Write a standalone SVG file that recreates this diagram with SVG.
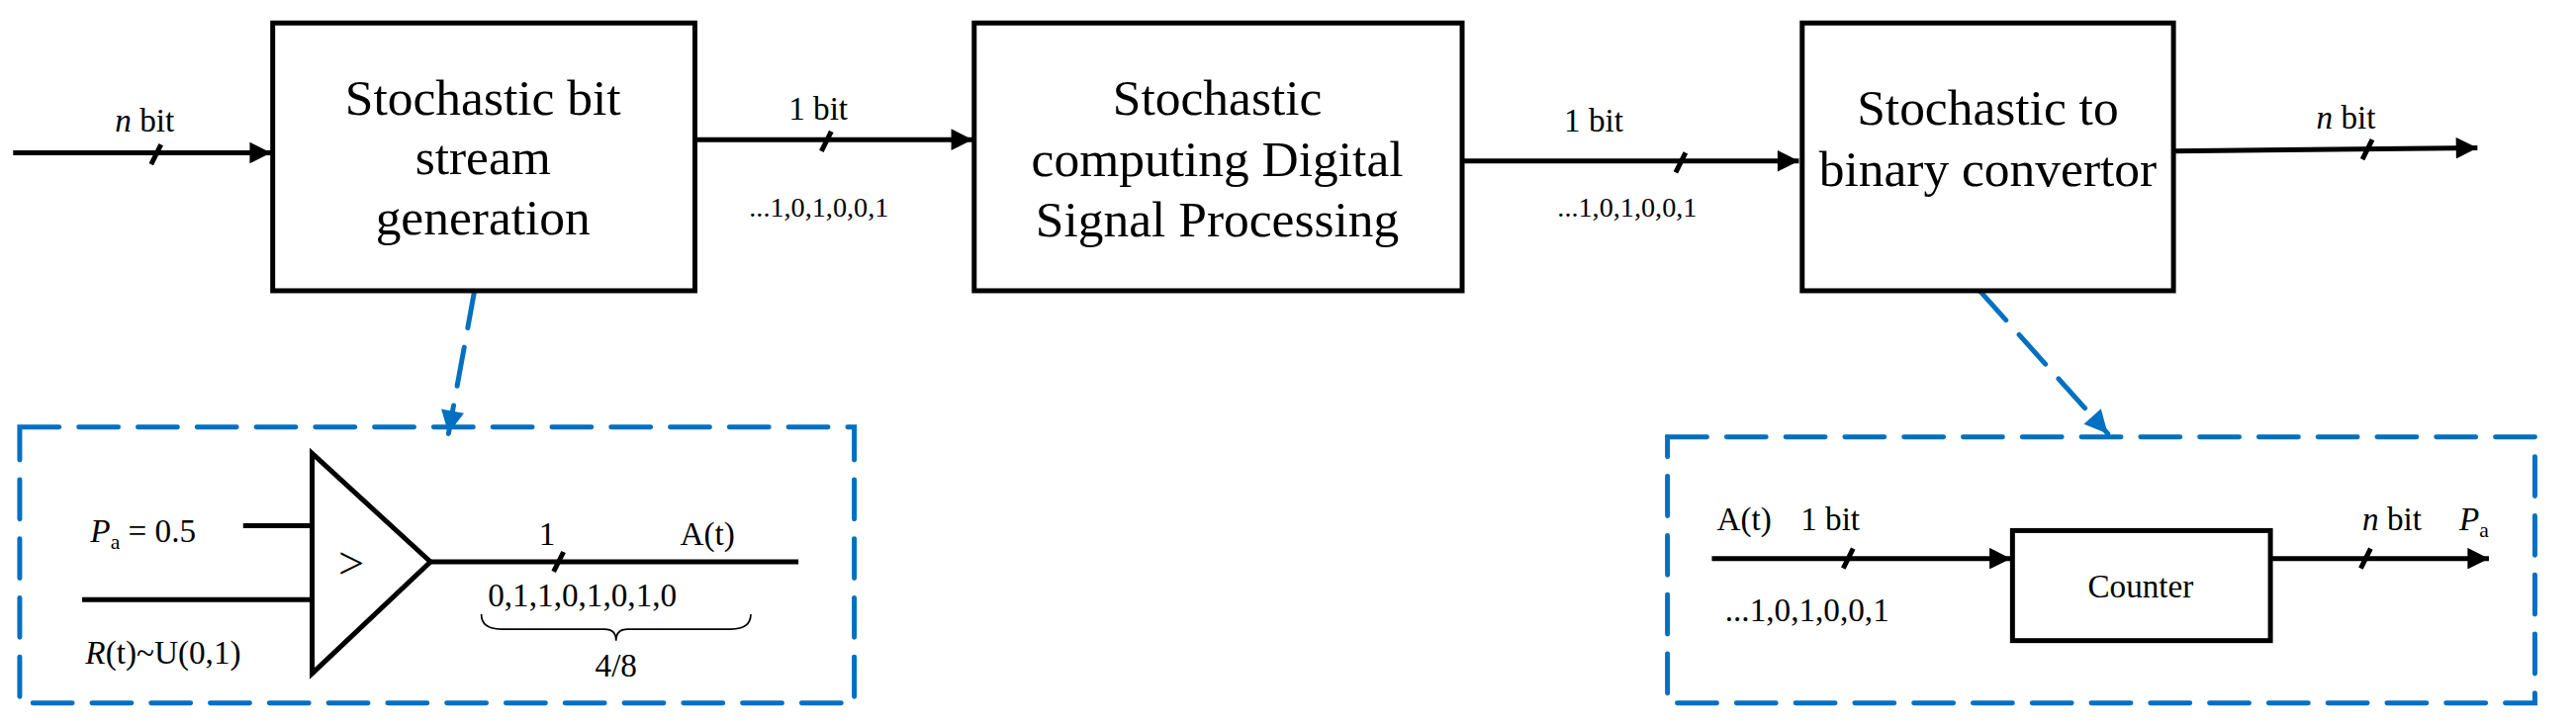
<svg xmlns="http://www.w3.org/2000/svg" width="2604" height="735" viewBox="0 0 2604 735">
<style>
text{font-family:"Liberation Serif","Times New Roman","DejaVu Serif",serif;fill:#000}
.bt{font-size:31px;text-anchor:middle}
.lb{font-size:20px}
.box{fill:#fff;stroke:#000;stroke-width:3}
.ln{stroke:#000;stroke-width:3;fill:none}
.bl{stroke:#0070C0;stroke-width:3;fill:none;stroke-dasharray:24 12;stroke-linecap:round}
</style>
<defs>
<marker id="a" viewBox="0 0 10 10" refX="10" refY="5" markerWidth="18" markerHeight="13" markerUnits="userSpaceOnUse" orient="auto"><path d="M0,0L10,5L0,10z" fill="#000"/></marker>
<marker id="ab" viewBox="0 0 10 10" refX="10" refY="5" markerWidth="18" markerHeight="14" markerUnits="userSpaceOnUse" orient="auto"><path d="M0,0L10,5L0,10z" fill="#0070C0"/></marker>
</defs>
<g transform="scale(1.6607)">
<g id="connectors">
<line class="ln" x1="8" y1="93" x2="165" y2="93" marker-end="url(#a)"/>
<line class="ln" x1="423" y1="85" x2="592" y2="85" marker-end="url(#a)"/>
<line class="ln" x1="890" y1="98" x2="1095" y2="98" marker-end="url(#a)"/>
<line class="ln" x1="1323" y1="92" x2="1508" y2="90" marker-end="url(#a)"/>
<path class="ln" d="M92,100L98,88M500,92L506,80M1020,105L1026,93M1438,97L1444,85"/>
<path class="bl" d="M289,176L273,264" marker-end="url(#ab)"/>
<path class="bl" d="M1205,177L1283,264" marker-end="url(#ab)"/>
</g>
<g id="labels-top" class="lb">
<text x="70" y="80"><tspan font-style="italic">n</tspan> bit</text>
<text x="480" y="73">1 bit</text>
<text x="456" y="132" font-size="17">...1,0,1,0,0,1</text>
<text x="952" y="80">1 bit</text>
<text x="948" y="132" font-size="17">...1,0,1,0,0,1</text>
<text x="1410" y="78"><tspan font-style="italic">n</tspan> bit</text>
</g>
<g id="n1"><rect class="box" x="166" y="14" width="257" height="163"/>
<text class="bt" x="294" y="70">Stochastic bit</text><text class="bt" x="294" y="106">stream</text><text class="bt" x="294" y="143">generation</text></g>
<g id="n2"><rect class="box" x="593" y="14" width="297" height="163"/>
<text class="bt" x="741" y="70">Stochastic</text><text class="bt" x="741" y="107">computing Digital</text><text class="bt" x="741" y="144">Signal Processing</text></g>
<g id="n3"><rect class="box" x="1097" y="14" width="226" height="163"/>
<text class="bt" x="1210" y="76">Stochastic to</text><text class="bt" x="1210" y="113">binary convertor</text></g>
<g id="detail1">
<rect class="bl" x="12" y="260" width="508" height="168"/>
<path class="ln" d="M190,276L262,342L190,410Z"/>
<text x="206" y="352" font-size="28">&gt;</text>
<line class="ln" x1="148" y1="320" x2="190" y2="320"/>
<line class="ln" x1="50" y1="365" x2="190" y2="365"/>
<line class="ln" x1="262" y1="342" x2="486" y2="342"/>
<path class="ln" d="M337,348L343,336"/>
<text class="lb" x="55" y="330"><tspan font-style="italic">P</tspan><tspan font-size="13" dy="4">a</tspan><tspan dy="-4"> = 0.5</tspan></text>
<text class="lb" x="52" y="404"><tspan font-style="italic">R</tspan>(t)~U(0,1)</text>
<text class="lb" x="328" y="332">1</text>
<text class="lb" x="414" y="332">A(t)</text>
<text class="lb" x="297" y="369">0,1,1,0,1,0,1,0</text>
<path d="M293,374Q293,383 305,383L368,383Q375,383 375,390Q375,383 382,383L445,383Q457,383 457,374" fill="none" stroke="#000" stroke-width="1"/>
<text class="lb" x="375" y="412" text-anchor="middle">4/8</text>
</g>
<g id="detail2">
<rect class="bl" x="1015" y="266" width="528" height="162"/>
<rect class="box" x="1225" y="323" width="157" height="67"/>
<text x="1303" y="364" font-size="20" text-anchor="middle">Counter</text>
<line class="ln" x1="1042" y1="340" x2="1224" y2="340" marker-end="url(#a)"/>
<line class="ln" x1="1382" y1="340" x2="1515" y2="340" marker-end="url(#a)"/>
<path class="ln" d="M1122,346L1128,334M1437,346L1443,334"/>
<text class="lb" x="1045" y="323">A(t)</text>
<text class="lb" x="1096" y="323">1 bit</text>
<text class="lb" x="1050" y="378">...1,0,1,0,0,1</text>
<text class="lb" x="1438" y="323"><tspan font-style="italic">n</tspan> bit</text>
<text class="lb" x="1497" y="323"><tspan font-style="italic">P</tspan><tspan font-size="13" dy="4">a</tspan></text>
</g>
</g>
</svg>
